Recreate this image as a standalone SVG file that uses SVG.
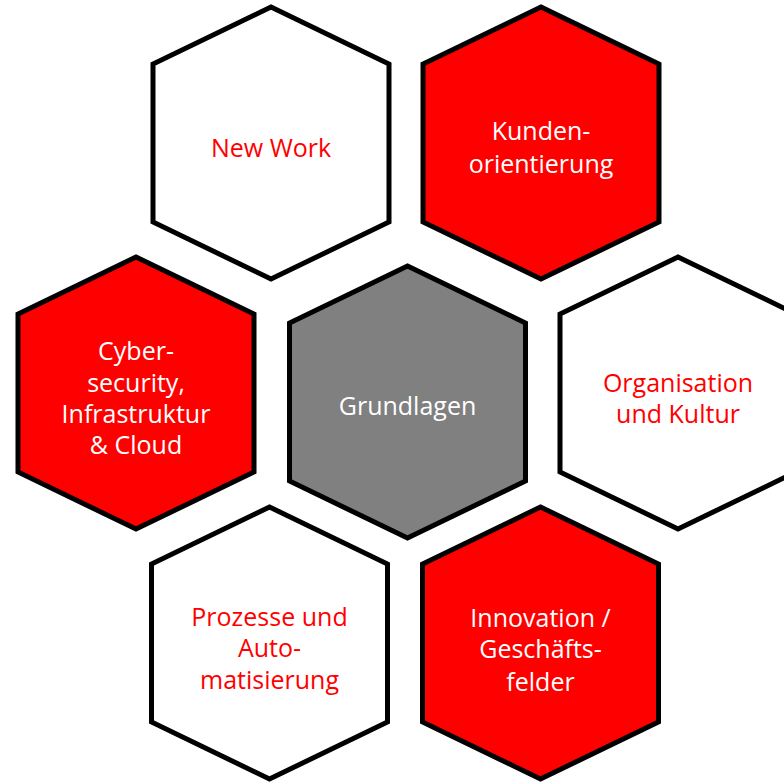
<svg xmlns="http://www.w3.org/2000/svg" width="784" height="783" viewBox="0 0 784 783">
<defs>
<style>
.hex{stroke:#000;stroke-width:5;stroke-linejoin:miter}
.w{fill:#fff}
.r{fill:#ff0000}
.g{fill:#808080}
text{font-family:"Open Sans","Noto Sans",sans-serif;font-size:25px;text-anchor:middle}
.tr{fill:#ff0000}
.tw{fill:#fff}
</style>
<polygon id="hx" points="0,-136 118,-79 118,79 0,136 -118,79 -118,-79"/>
</defs>
<rect width="784" height="783" fill="#fff"/>
<g id="connectors"></g>
<g id="newwork" transform="translate(271,143)">
<use href="#hx" class="hex w"/>
<text class="tr" x="0" y="14">New Work</text>
</g>
<g id="kunden" transform="translate(541,143)">
<use href="#hx" class="hex r"/>
<text class="tw" x="0" y="-3">Kunden-</text>
<text class="tw" x="0" y="30">orientierung</text>
</g>
<g id="cyber" transform="translate(136,393)">
<use href="#hx" class="hex r"/>
<text class="tw" x="0" y="-33">Cyber-</text>
<text class="tw" x="0" y="-1">security,</text>
<text class="tw" x="0" y="30">Infrastruktur</text>
<text class="tw" x="0" y="61">&amp; Cloud</text>
</g>
<g id="grundlagen" transform="translate(407.5,402)">
<use href="#hx" class="hex g"/>
<text class="tw" x="0" y="13">Grundlagen</text>
</g>
<g id="organisation" transform="translate(678,393)">
<use href="#hx" class="hex w"/>
<text class="tr" x="0" y="-1">Organisation</text>
<text class="tr" x="0" y="30">und Kultur</text>
</g>
<g id="prozesse" transform="translate(269.5,643)">
<use href="#hx" class="hex w"/>
<text class="tr" x="0" y="-17">Prozesse und</text>
<text class="tr" x="0" y="14">Auto-</text>
<text class="tr" x="0" y="46">matisierung</text>
</g>
<g id="innovation" transform="translate(540.5,643)">
<use href="#hx" class="hex r"/>
<text class="tw" x="0" y="-16">Innovation /</text>
<text class="tw" x="0" y="15">Geschäfts-</text>
<text class="tw" x="0" y="48">felder</text>
</g>
</svg>
